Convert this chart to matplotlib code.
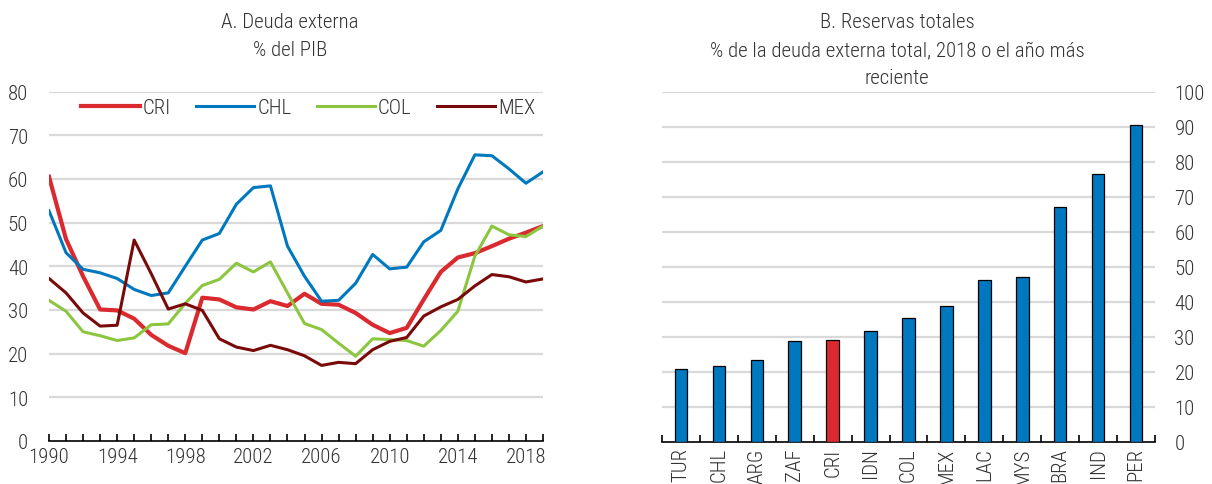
import matplotlib
matplotlib.use("Agg")
import matplotlib.pyplot as plt
import numpy as np
from matplotlib import font_manager

names = {f.name for f in font_manager.fontManager.ttflist}
prefs = ['Liberation Sans Narrow', 'Roboto Condensed', 'Open Sans Condensed', 'Arial Narrow', 'Liberation Sans']
chosen = next((p for p in prefs if p in names), 'DejaVu Sans')
NARROW = chosen != 'Liberation Sans'
plt.rcParams['font.family'] = [chosen, 'DejaVu Sans']
plt.rcParams['font.weight'] = 'light'

years = list(range(1990, 2020))
cri = [60.5, 46.2, 37.7, 30.1, 29.9, 28.0, 24.3, 21.8, 20.1, 32.8, 32.4, 30.6, 30.1, 32.0, 30.9,
       33.7, 31.4, 31.2, 29.3, 26.6, 24.7, 25.9, 32.4, 38.7, 42.0, 43.0, 44.6, 46.3, 47.7, 49.2]
chl = [52.7, 43.1, 39.3, 38.5, 37.2, 34.7, 33.3, 33.9, 40.0, 46.0, 47.5, 54.2, 58.0, 58.4, 44.6,
       37.7, 32.0, 32.2, 36.1, 42.7, 39.4, 39.8, 45.6, 48.2, 57.7, 65.5, 65.3, 62.3, 59.0, 61.6]
col = [32.2, 29.7, 25.0, 24.1, 23.0, 23.6, 26.6, 26.8, 31.5, 35.6, 37.0, 40.7, 38.7, 41.0, 33.9,
       26.9, 25.5, 22.4, 19.4, 23.4, 23.2, 23.0, 21.7, 25.3, 29.7, 42.3, 49.2, 47.2, 46.8, 49.2]
mex = [37.2, 33.9, 29.3, 26.3, 26.5, 46.0, 38.3, 30.2, 31.4, 29.9, 23.4, 21.5, 20.7, 21.9, 20.9,
       19.5, 17.3, 18.0, 17.7, 20.9, 22.8, 23.7, 28.6, 30.7, 32.4, 35.5, 38.1, 37.6, 36.4, 37.1]

bar_cats = ['TUR', 'CHL', 'ARG', 'ZAF', 'CRI', 'IDN', 'COL', 'MEX', 'LAC', 'MYS', 'BRA', 'IND', 'PER']
bar_vals = [20.8, 21.5, 23.4, 28.8, 29.2, 31.7, 35.4, 38.9, 46.2, 47.1, 67.2, 76.6, 90.4]

RED = '#DA2A2F'
BLUE = '#0078BF'
GREEN = '#8CC63F'
DARK = '#7A0A0A'
GRID = '#D9D9D9'
TXT = '#333333'
FS = 15 if NARROW else 13

fig = plt.figure(figsize=(12.12, 4.85), dpi=100)

# Left panel
L0, L1 = 49, 543
ax1 = fig.add_axes([L0/1212, 1-442/485, (L1-L0)/1212, (442-92.5)/485])
ax1.set_xlim(1990, 2019)
ax1.set_ylim(0, 80)
ax1.set_yticks(range(0, 81, 10))
for y in range(10, 81, 10):
    ax1.axhline(y, color=GRID, lw=1.6, zorder=0)
ax1.plot(years, cri, color=RED, lw=3.0, label='CRI', zorder=3)
ax1.plot(years, chl, color=BLUE, lw=2.2, label='CHL', zorder=3)
ax1.plot(years, col, color=GREEN, lw=2.2, label='COL', zorder=3)
ax1.plot(years, mex, color=DARK, lw=2.2, label='MEX', zorder=3)
for s in ['top', 'right', 'left']:
    ax1.spines[s].set_visible(False)
ax1.spines['bottom'].set_color('black')
ax1.spines['bottom'].set_linewidth(1.2)
ax1.set_xticks(years, minor=True)
ax1.set_xticks(list(range(1990, 2019, 4)))
ax1.tick_params(axis='x', which='both', direction='in', length=5, width=1.2, colors='black',
                labelcolor=TXT, labelsize=FS, pad=4)
ax1.tick_params(axis='y', length=0, labelsize=FS, labelcolor=TXT, pad=15)
leg = ax1.legend(loc='upper center', ncol=4, frameon=False, fontsize=FS, handlelength=2.8,
                 columnspacing=1.2, handletextpad=0.15, bbox_to_anchor=(0.525, 1.035))
for t in leg.get_texts():
    t.set_color(TXT)
cxl = 290/1212
fig.text(cxl, 1-22/485, 'A. Deuda externa', ha='center', va='center', fontsize=FS, color=TXT)
fig.text(cxl, 1-51/485, '% del PIB', ha='center', va='center', fontsize=FS, color=TXT)

# Right panel
R0, R1 = 662, 1155
ax2 = fig.add_axes([R0/1212, 1-442.7/485, (R1-R0)/1212, (442.7-92.7)/485])
x = np.arange(len(bar_cats))
colors = [RED if c == 'CRI' else BLUE for c in bar_cats]
ax2.bar(x, bar_vals, width=0.33, color=colors, edgecolor='black', linewidth=0.9, zorder=3)
ax2.set_xlim(-0.5, len(bar_cats) - 0.5)
ax2.set_ylim(0, 100)
ax2.set_yticks(range(0, 101, 10))
for y in range(10, 101, 10):
    ax2.axhline(y, color=GRID, lw=1.6, zorder=0)
for s in ['top', 'right', 'left']:
    ax2.spines[s].set_visible(False)
ax2.spines['bottom'].set_linewidth(1.2)
ax2.yaxis.tick_right()
ax2.tick_params(axis='y', length=0, labelsize=FS, labelcolor=TXT, pad=14)
ax2.set_xticks(x)
ax2.set_xticklabels(bar_cats, rotation=90, fontsize=FS, color=TXT)
ax2.tick_params(axis='x', which='major', length=0, pad=4)
ax2.set_xticks(np.arange(-0.5, len(bar_cats), 1.0), minor=True)
ax2.tick_params(axis='x', which='minor', direction='in', length=5, width=1.2)
cxr = 897/1212
fig.text(cxr, 1-22/485, 'B. Reservas totales', ha='center', va='center', fontsize=FS, color=TXT)
fig.text(cxr, 1-51/485, '% de la deuda externa total, 2018 o el año más', ha='center', va='center', fontsize=FS, color=TXT)
fig.text(cxr, 1-78/485, 'reciente', ha='center', va='center', fontsize=FS, color=TXT)

fig.savefig('out.png', dpi=100)
